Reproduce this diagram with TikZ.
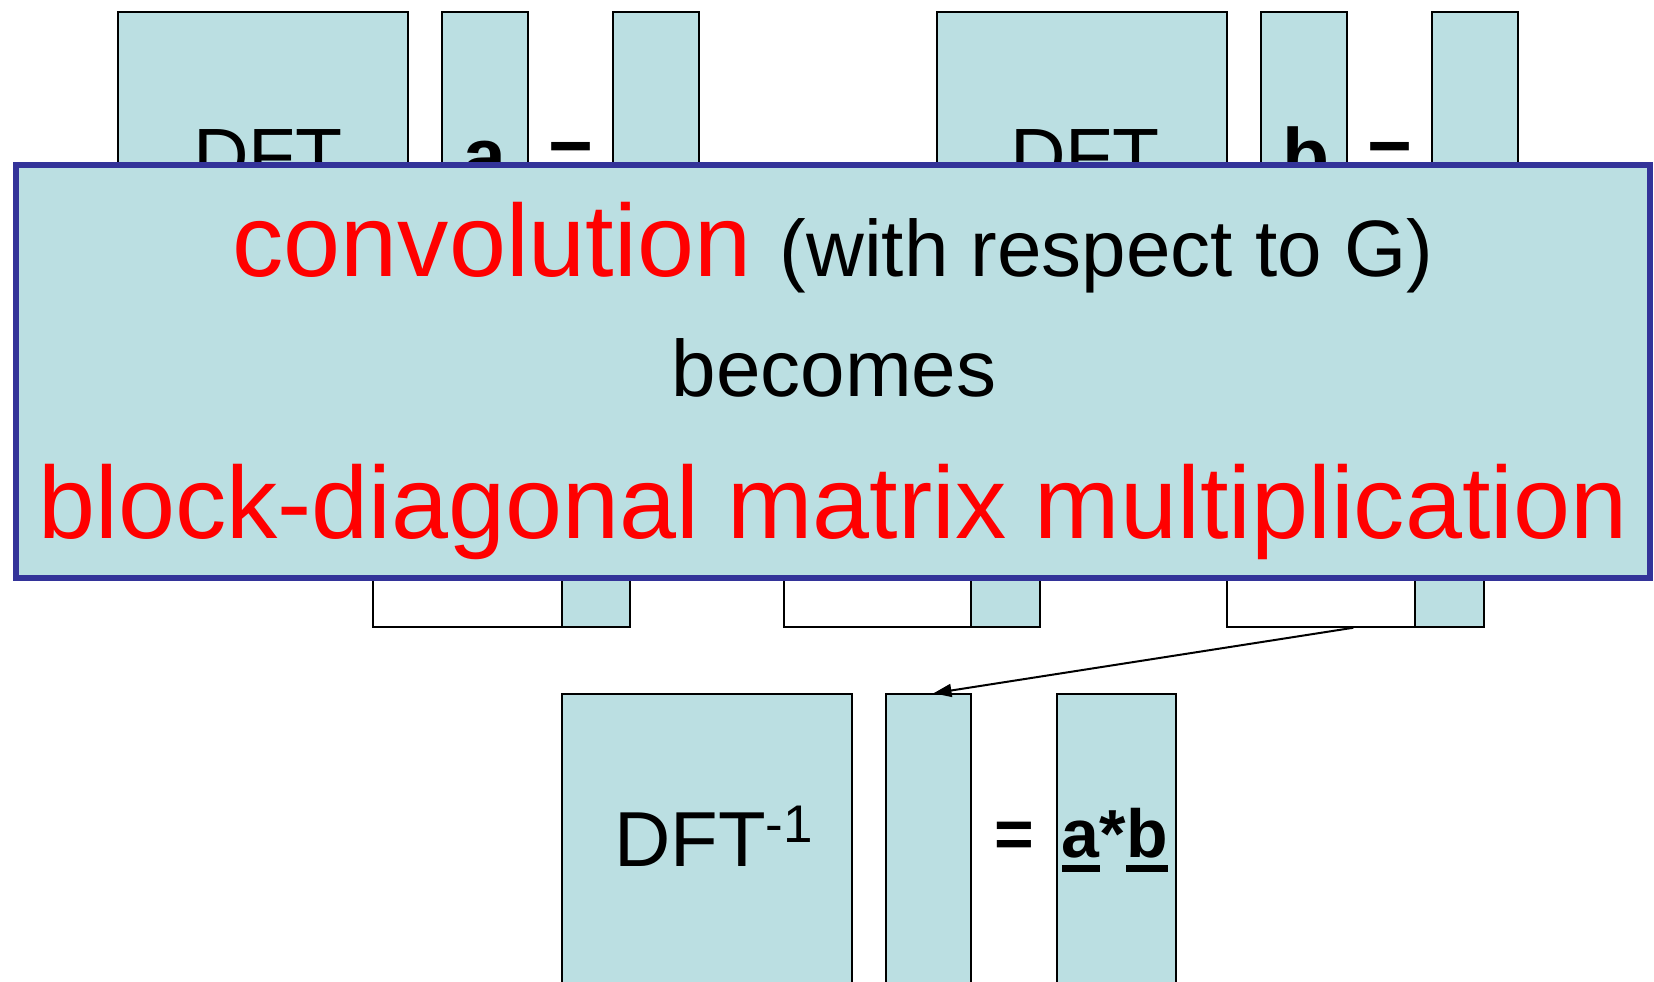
\documentclass[tikz,border=0pt]{standalone}
\usepackage{fontspec}
\setmainfont{Liberation Sans}
\usetikzlibrary{fit,calc,arrows.meta}
\definecolor{tealfill}{RGB}{187,223,226}
\definecolor{navy}{RGB}{51,51,153}
\newcommand\fs[1]{\fontsize{#1}{#1}\selectfont}
\newcommand\myul[1]{\setbox0\hbox{#1}\rlap{\rule[-15pt]{\wd0}{7pt}}\box0}
\begin{document}
\begin{tikzpicture}[x=1pt,y=-1pt,
  blk/.style={draw=black, fill=tealfill, line width=1.5pt, inner sep=0pt},
  wblk/.style={draw=black, fill=white, line width=1.5pt, inner sep=0pt},
  txt/.style={inner sep=0pt, anchor=base, font=\fs{77}},
  ovtxt/.style={inner sep=0pt, anchor=base}]
\useasboundingbox (0,0) rectangle (1654,982);
\clip (0,0) rectangle (1654,982);
% top row
\node[blk, fit={(118,12) (408,320)}] (d1) {};
\node[blk, fit={(442,12) (528,320)}] (va) {};
\node[blk, fit={(613,12) (699,320)}] (fa) {};
\node[blk, fit={(937,12) (1227,320)}] (d2) {};
\node[blk, fit={(1261,12) (1347,320)}] (vb) {};
\node[blk, fit={(1432,12) (1518,320)}] (fb) {};
\node[txt] (t1) at (268,182) {DFT};
\node[txt] (ta) at (485,182) {\bfseries a};
\node[txt] (te1) at (571,182) {\bfseries =};
\node[txt] (t2) at (1085,182) {DFT};
\node[txt] (tb) at (1306,182) {\bfseries b};
\node[txt] (te2) at (1390,182) {\bfseries =};
% hidden middle row
\node[wblk, fit={(373,420) (562,627)}] (w1) {};
\node[blk, fit={(562,420) (630,627)}] (g1) {};
\node[wblk, fit={(784,420) (971,627)}] (w2) {};
\node[blk, fit={(971,420) (1040,627)}] (g2) {};
\node[wblk, fit={(1227,420) (1415,627)}] (w3) {};
\node[blk, fit={(1415,420) (1484,627)}] (g3) {};
% bottom row
\node[blk, fit={(562,694) (852,1000)}] (inv) {};
\node[blk, fit={(886,694) (971,1000)}] (nb) {};
\node[blk, fit={(1057,694) (1176,1000)}] (res) {};
\node[inner sep=0pt, anchor=base west, font=\fs{78}] (tinv) at (614,866) {DFT\raisebox{24pt}{\fs{53}-1}};
\node[inner sep=0pt, anchor=base west, font=\fs{68}\bfseries] (tres) at (994,857) {=\hspace{28pt}\myul{a}*\myul{b}};
% arrow
\coordinate (as) at ($(w3.south west)!0.67!(w3.south east)$);
\draw[line width=2pt, -{Triangle[length=18pt,width=13pt]}] (as) -- ($(nb.north)+(5,0)$);
% overlay
\node[draw=navy, line width=6pt, fill=tealfill, inner sep=0pt, fit={(16,165) (1650,578)}] (ov) {};
\node[ovtxt] (l1) at (833,276) {\color{red}\fs{102.5}convolution \color{black}\fs{80}(with respect to G)};
\node[ovtxt, font=\fs{80}] (l2) at (834,396) {becomes};
\node[ovtxt, font=\fs{102.5}, text=red] (l3) at (833,538) {block-diagonal matrix multiplication};
\end{tikzpicture}
\end{document}
